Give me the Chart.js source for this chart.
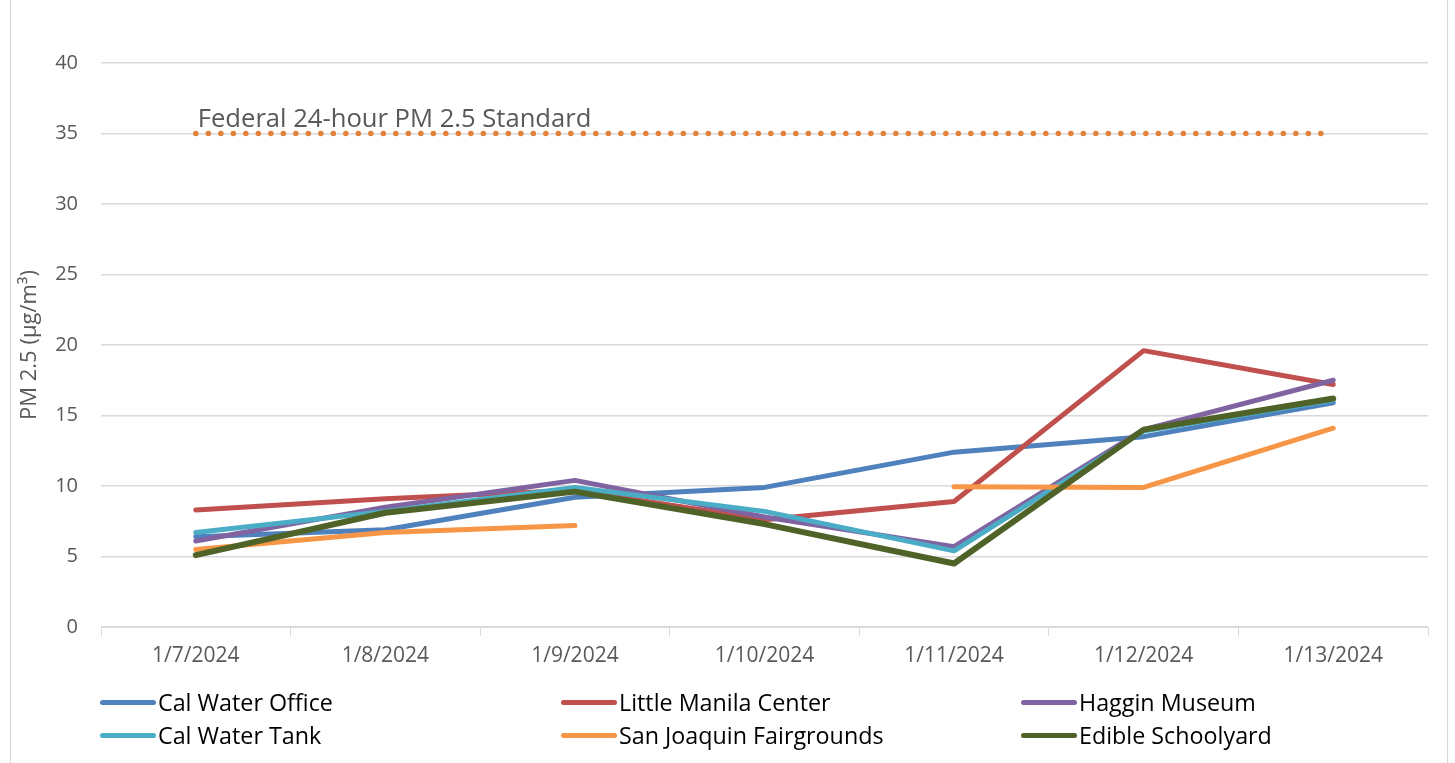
<!DOCTYPE html>
<html>
<head>
<meta charset="utf-8">
<script src="https://cdn.jsdelivr.net/npm/chart.js@4"></script>
<style>
    html, body { margin: 0; padding: 0; background: #fff; }
    #wrap { position: relative; width: 1455px; height: 763px; overflow: hidden; }
    #frame { position: absolute; left: 10px; top: -2px; width: 1436px; height: 770px; border: 1px solid #d9d9d9; }
    #legend { position: absolute; left: 100px; top: 689px; display: grid; grid-template-columns: 461px 460px 400px; row-gap: 7px; }
    .item { display: flex; align-items: center; font-family: "Open Sans", sans-serif; font-size: 23.3px; color: #000; height: 26px; }
    .swatch { width: 56px; height: 5px; border-radius: 3px; margin-right: 2px; }
</style>
</head>
<body>
<div id="wrap">
    <div id="frame"></div>
    <canvas id="pmChart" width="1455" height="763"></canvas>
    <div id="legend"></div>
</div>
<script>
const dates = ['1/7/2024', '1/8/2024', '1/9/2024', '1/10/2024', '1/11/2024', '1/12/2024', '1/13/2024'];
const calWaterOffice = [6.4, 6.9, 9.2, 9.9, 12.4, 13.5, 15.9];
const littleManila = [8.3, 9.1, 9.7, 7.6, 8.9, 19.6, 17.2];
const hagginMuseum = [6.1, 8.5, 10.4, 7.8, 5.7, 14.0, 17.5];
const calWaterTank = [6.7, 8.2, 9.9, 8.2, 5.4, 13.9, 16.1];
const sanJoaquin = [5.5, 6.7, 7.2, null, 9.95, 9.9, 14.1];
const edibleSchoolyard = [5.1, 8.1, 9.6, 7.3, 4.5, 14.0, 16.2];
const federalStandard = [35, 35, 35, 35, 35, 35, 35];
const yTicks = [0, 5, 10, 15, 20, 25, 30, 35, 40];

const standardLabel = 'Federal 24-hour PM 2.5 Standard';

function series(label, data, color, order, width) {
    return {
        label: label,
        data: data,
        borderColor: color,
        backgroundColor: color,
        borderWidth: width || 5,
        pointRadius: 0,
        tension: 0,
        spanGaps: false,
        borderCapStyle: 'round',
        borderJoinStyle: 'round',
        order: order
    };
}

// text above the standard line, placed from the scales
const standardLabelPlugin = {
    id: 'standardLabel',
    afterDatasetsDraw(chart) {
        const x = chart.scales.x.getPixelForValue(0);
        const y = chart.scales.y.getPixelForValue(35);
        const c = chart.ctx;
        c.save();
        c.font = '25.6px "Open Sans", sans-serif';
        c.fillStyle = '#595959';
        c.textAlign = 'left';
        c.textBaseline = 'bottom';
        c.fillText(standardLabel, x + 2, y - 1);
        c.restore();
    }
};

const chart = new Chart(document.getElementById('pmChart'), {
    type: 'line',
    data: {
        labels: dates,
        datasets: [
            series('Cal Water Office', calWaterOffice, '#4F81BD', 5),
            series('Little Manila Center', littleManila, '#C0504D', 4),
            series('Haggin Museum', hagginMuseum, '#8064A2', 3),
            series('Cal Water Tank', calWaterTank, '#4BACC6', 2),
            series('San Joaquin Fairgrounds', sanJoaquin, '#F79646', 1),
            series('Edible Schoolyard', edibleSchoolyard, '#4F6228', 0, 6),
            {
                label: 'standard',
                data: federalStandard,
                borderColor: '#E3823A',
                borderWidth: 5.5,
                borderDash: [0.1, 12.4],
                borderCapStyle: 'round',
                pointRadius: 0,
                tension: 0,
                order: 6
            }
        ]
    },
    options: {
        responsive: false,
        animation: false,
        events: [],
        layout: { padding: { top: 63, right: 27, bottom: 91, left: 0 } },
        scales: {
            x: {
                offset: true,
                grid: { drawOnChartArea: false, drawTicks: true, tickLength: 9, color: '#d9d9d9', offset: true },
                border: { display: true, color: '#d9d9d9', width: 1 },
                ticks: { color: '#595959', font: { family: 'Open Sans', size: 21 }, maxRotation: 0, padding: 7 },
                afterFit: (s) => { s.height = 45; }
            },
            y: {
                min: 0,
                max: 40,
                afterBuildTicks: (s) => { s.ticks = yTicks.map(v => ({ value: v })); },
                grid: { color: '#d9d9d9', lineWidth: 1.5, drawTicks: false },
                border: { display: false },
                ticks: { color: '#595959', font: { family: 'Open Sans', size: 20 }, padding: 23 },
                title: {
                    display: true,
                    text: 'PM 2.5 (µg/m³)',
                    color: '#595959',
                    font: { family: 'Open Sans', size: 22 },
                    padding: { top: 17, bottom: 0 }
                },
                afterFit: (s) => { s.width = 101; }
            }
        },
        plugins: {
            legend: { display: false },
            tooltip: { enabled: false }
        }
    },
    plugins: [standardLabelPlugin]
});

// legend in three columns, skipping the standard line
const legendEl = document.getElementById('legend');
chart.data.datasets.slice(0, 6).forEach(ds => {
    const item = document.createElement('div');
    item.className = 'item';
    const sw = document.createElement('span');
    sw.className = 'swatch';
    sw.style.background = ds.borderColor;
    item.appendChild(sw);
    item.appendChild(document.createTextNode(ds.label));
    legendEl.appendChild(item);
});
</script>
</body>
</html>
